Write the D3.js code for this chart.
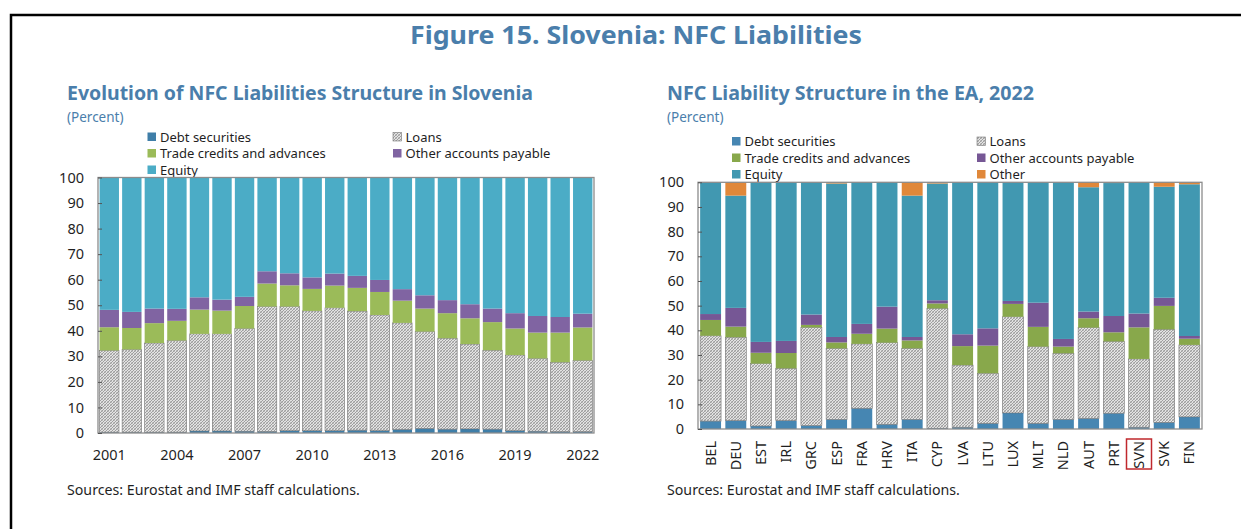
<!DOCTYPE html>
<html>
<head>
<meta charset="utf-8">
<script src="https://cdn.jsdelivr.net/npm/d3@7"></script>
<style>
  body { margin: 0; background: #fff; }
  svg { display: block; }
  text { font-family: "Noto Sans", "Open Sans", sans-serif; }
</style>
</head>
<body>
<svg id="fig" width="1241" height="529"></svg>
<script>
// ---- Slovenia: evolution of NFC liability structure (percent of total) ----
const evoYears  = [2001, 2002, 2003, 2004, 2005, 2006, 2007, 2008, 2009, 2010, 2011,
                   2012, 2013, 2014, 2015, 2016, 2017, 2018, 2019, 2020, 2021, 2022];
const evoDebt   = [0.3, 0.3, 0.3, 0.3, 0.8, 0.8, 0.7, 0.6, 0.9, 0.9, 0.9,
                   1.1, 0.9, 1.4, 1.8, 1.5, 1.6, 1.5, 0.9, 0.7, 0.5, 0.5];
const evoLoans  = [32.0, 32.4, 34.9, 35.9, 38.0, 38.0, 40.2, 48.9, 48.6, 46.9, 48.1,
                   46.6, 45.3, 41.7, 37.9, 35.6, 33.2, 30.9, 29.6, 28.5, 27.2, 27.9];
const evoTrade  = [9.1, 8.4, 7.8, 7.7, 9.5, 9.1, 8.8, 9.0, 8.3, 8.6, 8.7,
                   9.1, 9.0, 8.7, 9.0, 9.8, 10.1, 11.0, 10.4, 10.1, 11.6, 12.9];
const evoOther  = [6.8, 6.3, 5.7, 4.7, 4.8, 4.3, 3.6, 4.8, 4.7, 4.5, 4.7,
                   4.7, 4.7, 4.5, 5.2, 5.1, 5.5, 5.3, 6.0, 6.5, 6.1, 5.4];
const evoEquity = [51.8, 52.6, 51.3, 51.4, 46.9, 47.8, 46.7, 36.7, 37.5, 39.1, 37.6,
                   38.5, 40.1, 43.7, 46.1, 48.0, 49.6, 51.3, 53.1, 54.2, 54.6, 53.3];
const evoTickYears = [2001, 2004, 2007, 2010, 2013, 2016, 2019, 2022];

// ---- Euro area NFC liability structure, 2022 (percent of total) ----
const eaCountries = ["BEL", "DEU", "EST", "IRL", "GRC", "ESP", "FRA", "HRV", "ITA", "CYP",
                     "LVA", "LTU", "LUX", "MLT", "NLD", "AUT", "PRT", "SVN", "SVK", "FIN"];
const eaDebt   = [3.2, 3.4, 1.2, 3.4, 1.4, 3.9, 8.4, 1.9, 3.9, 0.3,
                  0.7, 2.3, 6.5, 2.3, 3.9, 4.3, 6.4, 0.7, 2.7, 4.9];
const eaLoans  = [34.6, 33.8, 25.3, 21.2, 39.8, 28.8, 26.1, 33.1, 28.8, 48.6,
                  25.2, 20.3, 39.0, 31.1, 26.8, 36.8, 29.1, 27.7, 37.7, 29.2];
const eaTrade  = [6.4, 4.3, 4.4, 6.2, 1.0, 2.4, 4.1, 5.7, 3.2, 2.0,
                  7.7, 11.2, 5.2, 8.0, 2.7, 3.8, 3.7, 12.8, 9.5, 2.5];
const eaOther  = [2.4, 7.6, 4.4, 4.9, 4.2, 2.2, 4.0, 8.9, 1.4, 1.3,
                  4.8, 7.0, 1.2, 9.8, 3.1, 2.7, 6.6, 5.6, 3.3, 1.1];
const eaEquity = [53.4, 45.5, 64.7, 64.3, 53.6, 62.2, 57.4, 50.4, 57.3, 47.3,
                  61.6, 59.2, 48.1, 48.8, 63.5, 50.4, 53.9, 53.2, 45.0, 61.5];
const eaRest   = [0, 5.4, 0, 0, 0, 0.5, 0, 0, 5.4, 0.5,
                  0, 0, 0, 0, 0, 2.0, 0.3, 0, 1.8, 0.8];
const highlightCountry = "SVN";

const yTicks = [0, 10, 20, 30, 40, 50, 60, 70, 80, 90, 100];

const titleBlue = "#4A7EAB";
const textDark = "#1f1f1f";

const svg = d3.select("#fig");

// hatched fill used for the loans component
const defs = svg.append("defs");
const hatch = defs.append("pattern")
  .attr("id", "loansHatch")
  .attr("patternUnits", "userSpaceOnUse")
  .attr("width", 3).attr("height", 3);
hatch.append("rect").attr("width", 3).attr("height", 3).attr("fill", "#e3e3e3");
hatch.append("path").attr("d", "M0,3 L3,0 M-1,1 L1,-1 M2,4 L4,2")
  .attr("stroke", "#7f7f7f").attr("stroke-width", 0.7);
hatch.append("path").attr("d", "M0,0 L3,3")
  .attr("stroke", "#9c9c9c").attr("stroke-width", 0.5);

// page frame
svg.append("path")
  .attr("d", "M11,529 L11,15 L1241,15")
  .attr("fill", "none").attr("stroke", "#000").attr("stroke-width", 2.5);

svg.append("text")
  .attr("x", 636).attr("y", 44)
  .attr("text-anchor", "middle")
  .attr("font-size", 25).attr("font-weight", 700)
  .attr("fill", titleBlue)
  .attr("textLength", 452).attr("lengthAdjust", "spacingAndGlyphs")
  .text("Figure 15. Slovenia: NFC Liabilities");

function drawPanel(cfg) {
  const g = svg.append("g");

  g.append("text")
    .attr("x", cfg.titleX).attr("y", cfg.titleY)
    .attr("font-size", 19.5).attr("font-weight", 700)
    .attr("fill", titleBlue)
    .attr("textLength", cfg.titleWidth).attr("lengthAdjust", "spacingAndGlyphs")
    .text(cfg.title);
  g.append("text")
    .attr("x", cfg.titleX).attr("y", cfg.titleY + 22)
    .attr("font-size", 13.5)
    .attr("fill", titleBlue)
    .text("(Percent)");

  // legend
  const lg = g.append("g").attr("font-size", 13).attr("fill", textDark);
  cfg.legend.forEach((item, i) => {
    const col = i % 2, row = Math.floor(i / 2);
    const lx = cfg.legendX[col], ly = cfg.legendY + row * cfg.legendRow;
    lg.append("rect")
      .attr("x", lx).attr("y", ly - 4.5).attr("width", 8.5).attr("height", 8.5)
      .attr("fill", item.fill)
      .attr("stroke", item.key === "loans" ? "#777" : "none").attr("stroke-width", 0.6);
    lg.append("text")
      .attr("x", lx + 12.5).attr("y", ly).attr("dy", "0.35em")
      .text(item.label);
  });

  const x = d3.scaleBand()
    .domain(cfg.categories)
    .range([cfg.left, cfg.right])
    .paddingInner(cfg.padInner).paddingOuter(cfg.padOuter);
  const y = d3.scaleLinear().domain([0, 100]).range([cfg.bottom, cfg.top]);

  const stack = d3.stack().keys(cfg.keys);
  const series = stack(cfg.rows);

  const fillOf = Object.fromEntries(cfg.legend.map(d => [d.key, d.fill]));

  g.append("g").selectAll("g")
    .data(series)
    .join("g")
    .attr("fill", d => fillOf[d.key])
    .selectAll("rect")
    .data(d => d.map(v => Object.assign(v, { key: d.key })))
    .join("rect")
    .attr("x", d => x(d.data.cat))
    .attr("width", x.bandwidth())
    .attr("y", d => y(d[1]))
    .attr("height", d => Math.max(0, y(d[0]) - y(d[1])))
    .attr("stroke", d => d.key === "loans" ? "#6f6f6f" : "none")
    .attr("stroke-width", 0.6);

  // plot frame
  g.append("rect")
    .attr("x", cfg.left).attr("y", cfg.top)
    .attr("width", cfg.right - cfg.left).attr("height", cfg.bottom - cfg.top)
    .attr("fill", "none").attr("stroke", "#8c8c8c").attr("stroke-width", 1.3);

  // y axis, ticks pointing into the plot
  const yAxis = d3.axisLeft(y).tickValues(yTicks).tickSize(-4).tickPadding(14);
  const ya = g.append("g").attr("transform", `translate(${cfg.left},0)`).call(yAxis);
  ya.select(".domain").remove();
  ya.selectAll("line").attr("stroke", "#555");
  ya.selectAll("text").attr("font-size", 14.5).attr("fill", textDark)
    .attr("font-family", "'Noto Sans', sans-serif");

  return { g, x, y };
}

// ---- left panel ----
const evoRows = evoYears.map((yr, i) => ({
  cat: String(yr), debt: evoDebt[i], loans: evoLoans[i], trade: evoTrade[i],
  other: evoOther[i], equity: evoEquity[i]
}));
const left = drawPanel({
  title: "Evolution of NFC Liabilities Structure in Slovenia",
  titleX: 67, titleY: 100, titleWidth: 466,
  legendX: [147.5, 393], legendY: 137, legendRow: 16.5,
  legend: [
    { key: "debt", label: "Debt securities", fill: "#3F7EA8" },
    { key: "loans", label: "Loans", fill: "url(#loansHatch)" },
    { key: "trade", label: "Trade credits and advances", fill: "#9BBB59" },
    { key: "other", label: "Other accounts payable", fill: "#8064A2" },
    { key: "equity", label: "Equity", fill: "#4BACC6" }
  ],
  categories: evoYears.map(String),
  keys: ["debt", "loans", "trade", "other", "equity"],
  rows: evoRows,
  left: 98, right: 594, top: 177.5, bottom: 433,
  padInner: 0.14, padOuter: 0.07
});
const xa = left.g.append("g").attr("font-size", 14.5).attr("fill", textDark);
xa.selectAll("text")
  .data(evoTickYears)
  .join("text")
  .attr("x", d => left.x(String(d)) + left.x.bandwidth() / 2)
  .attr("y", 460)
  .attr("text-anchor", "middle")
  .text(d => d);
left.g.append("text")
  .attr("x", 67).attr("y", 495)
  .attr("font-size", 14.2).attr("fill", textDark)
  .text("Sources: Eurostat and IMF staff calculations.");

// ---- right panel ----
const eaRows = eaCountries.map((c, i) => ({
  cat: c, debt: eaDebt[i], loans: eaLoans[i], trade: eaTrade[i],
  other: eaOther[i], equity: eaEquity[i], rest: eaRest[i]
}));
const right = drawPanel({
  title: "NFC Liability Structure in the EA, 2022",
  titleX: 667, titleY: 100, titleWidth: 367,
  legendX: [732, 977], legendY: 141.5, legendRow: 16.5,
  legend: [
    { key: "debt", label: "Debt securities", fill: "#4686B2" },
    { key: "loans", label: "Loans", fill: "url(#loansHatch)" },
    { key: "trade", label: "Trade credits and advances", fill: "#88A84B" },
    { key: "other", label: "Other accounts payable", fill: "#765795" },
    { key: "equity", label: "Equity", fill: "#4198B1" },
    { key: "rest", label: "Other", fill: "#E0883A" }
  ],
  categories: eaCountries,
  keys: ["debt", "loans", "trade", "other", "equity", "rest"],
  rows: eaRows,
  left: 698, right: 1202, top: 182.3, bottom: 429,
  padInner: 0.17, padOuter: 0.085
});
const xr = right.g.append("g").attr("font-size", 14.5).attr("fill", textDark);
xr.selectAll("text")
  .data(eaCountries)
  .join("text")
  .attr("transform", d => `translate(${right.x(d) + right.x.bandwidth() / 2},441) rotate(-90)`)
  .attr("text-anchor", "end")
  .attr("dy", "0.35em")
  .text(d => d);
right.g.append("rect")
  .attr("x", right.x(highlightCountry) + right.x.bandwidth() / 2 - 12.5)
  .attr("y", 439).attr("width", 25).attr("height", 30)
  .attr("fill", "none").attr("stroke", "#C0282D").attr("stroke-width", 1.5);
right.g.append("text")
  .attr("x", 667).attr("y", 495)
  .attr("font-size", 14.2).attr("fill", textDark)
  .text("Sources: Eurostat and IMF staff calculations.");
</script>
</body>
</html>
